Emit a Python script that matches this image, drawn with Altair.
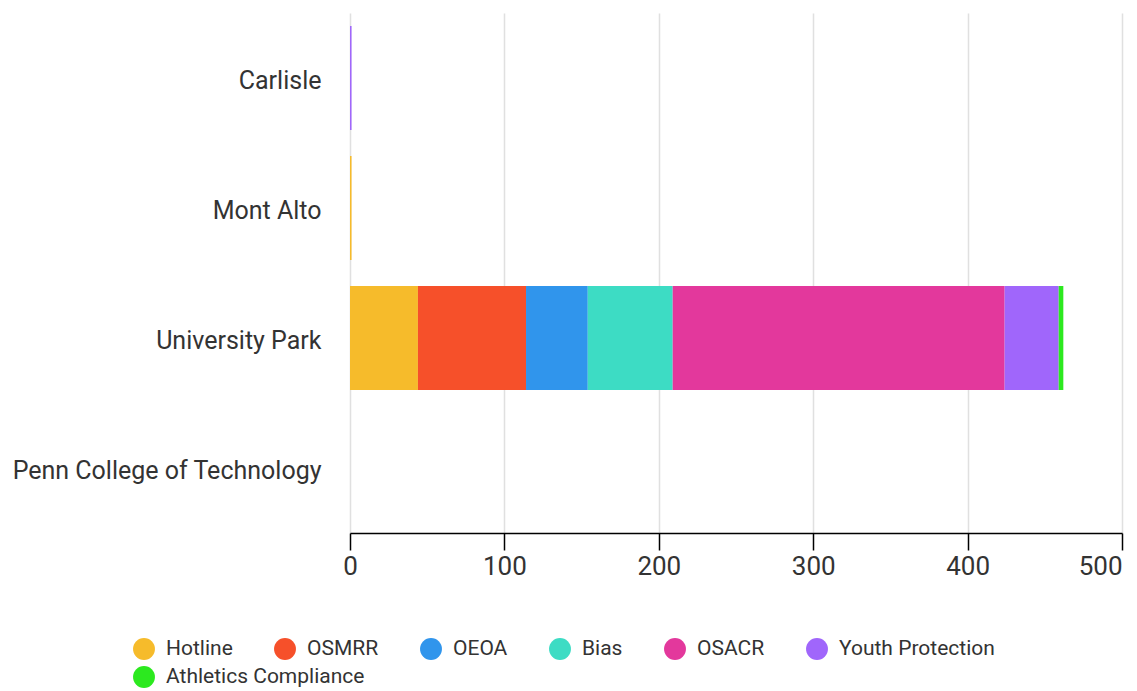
import altair as alt
import pandas as pd

campuses = ["Carlisle", "Mont Alto", "University Park", "Penn College of Technology"]
series = ["Hotline", "OSMRR", "OEOA", "Bias", "OSACR", "Youth Protection", "Athletics Compliance"]
colors = ["#f6bb2b", "#f6502a", "#3095ec", "#3ddcc4", "#e3389c", "#a066fb", "#2ce91f"]
ticks = [0, 100, 200, 300, 400, 500]

hotline = [0, 1, 44, 0]
osmrr = [0, 0, 70, 0]
oeoa = [0, 0, 40, 0]
bias = [0, 0, 55, 0]
osacr = [0, 0, 215, 0]
youth = [1, 0, 35, 0]
athletics = [0, 0, 3, 0]

values = [hotline, osmrr, oeoa, bias, osacr, youth, athletics]
rows = []
for si, (s, vals) in enumerate(zip(series, values)):
    for c, v in zip(campuses, vals):
        rows.append({"campus": c, "series": s, "value": v, "order": si})
df = pd.DataFrame(rows)

FONT = "Roboto"
LEG_FONT = 21
SYM = 480

base = alt.Chart(df)

bars = base.mark_bar().encode(
    y=alt.Y("campus:N", sort=campuses, title=None,
            scale=alt.Scale(domain=campuses, paddingInner=0.2, paddingOuter=0.1),
            axis=alt.Axis(domain=False, ticks=False, labelFontSize=25, labelColor="#333333",
                          labelFont=FONT, labelPadding=29, labelLimit=400, labelOffset=3)),
    x=alt.X("value:Q", stack="zero", title=None,
            scale=alt.Scale(domain=[0, 500], nice=False),
            axis=alt.Axis(values=ticks, domainColor="#000000", domainWidth=1.5,
                          tickColor="#000000", tickWidth=1.5, tickSize=17,
                          labelFontSize=26, labelColor="#333333", labelFont=FONT, labelPadding=3,
                          labelAlign=alt.expr("datum.value == 500 ? 'right' : 'center'"),
                          gridColor="#e0e0e0", gridWidth=1.5, labelFlush=False)),
    color=alt.Color("series:N", sort=series,
                    scale=alt.Scale(domain=series, range=colors),
                    legend=alt.Legend(title=None, orient="none", legendX=-217, legendY=625,
                                      direction="horizontal", values=series[:6],
                                      symbolType="circle",
                                      symbolSize=SYM, symbolStrokeWidth=0, symbolOpacity=1,
                                      labelFontSize=LEG_FONT, labelFont=FONT, labelColor="#333333",
                                      labelOffset=11, columnPadding=41,
                                      labelLimit=400)),
    order=alt.Order("order:Q"),
)

# second legend row (Athletics Compliance), driven by its own fill scale
extra = base.transform_filter(
    alt.datum.series == series[6]
).mark_point(opacity=0, filled=True, shape="circle").encode(
    y=alt.Y("campus:N", sort=campuses),
    x=alt.X("value:Q"),
    fill=alt.Fill("series:N",
                  scale=alt.Scale(domain=series[6:], range=colors[6:]),
                  legend=alt.Legend(title=None, orient="none", legendX=-217, legendY=653,
                                    direction="horizontal", symbolType="circle",
                                    symbolSize=SYM, symbolStrokeWidth=0, symbolOpacity=1,
                                    labelFontSize=LEG_FONT, labelFont=FONT, labelColor="#333333",
                                    labelOffset=11, labelLimit=400)),
)

chart = alt.layer(bars, extra).resolve_scale(color="independent", fill="independent").properties(
    width=772, height=520,
    autosize=alt.AutoSizeParams(type="none"),
    padding={"left": 342, "top": 5, "right": 7, "bottom": 158},
).configure_view(stroke=None).configure_axis(labelFont=FONT)

chart.save("out.html", embed_options={"renderer": "svg", "actions": False})
